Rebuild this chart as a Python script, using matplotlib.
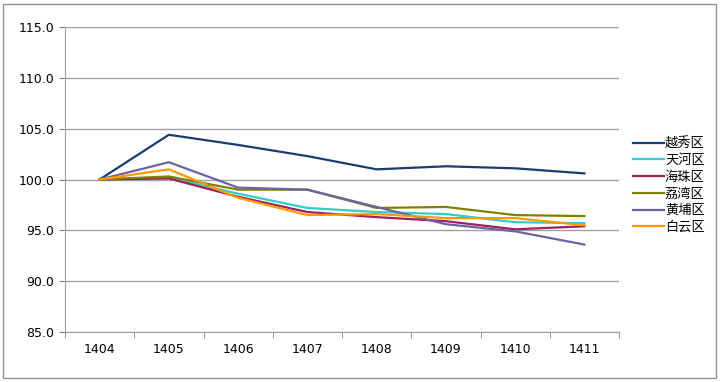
import matplotlib
matplotlib.use('Agg')
import matplotlib.pyplot as plt
from matplotlib.patches import Rectangle

plt.rcParams['font.family'] = ['Noto Sans CJK SC', 'DejaVu Sans']

months = ['1404', '1405', '1406', '1407', '1408', '1409', '1410', '1411']
yuexiu = [100.0, 104.4, 103.4, 102.3, 101.0, 101.3, 101.1, 100.6]
tianhe = [100.0, 100.2, 98.6, 97.2, 96.8, 96.6, 95.8, 95.7]
haizhu = [100.0, 100.1, 98.3, 96.8, 96.3, 95.9, 95.1, 95.4]
liwan = [100.0, 100.3, 99.0, 99.0, 97.2, 97.3, 96.5, 96.4]
huangpu = [100.0, 101.7, 99.2, 99.0, 97.3, 95.6, 94.9, 93.6]
baiyun = [100.0, 101.0, 98.2, 96.5, 96.6, 96.2, 96.2, 95.5]

names = ['越秀区', '天河区', '海珠区', '荔湾区', '黄埔区', '白云区']
series = [yuexiu, tianhe, haizhu, liwan, huangpu, baiyun]
colors = ['#1A3C70', '#33CCCC', '#A0205A', '#808000', '#6E62A6', '#FF9900']

fig = plt.figure(figsize=(7.2, 3.82), dpi=100)
ax = fig.add_axes([65/720, 50/382, 554/720, 305/382])

x = list(range(len(months)))
for s, n, c in zip(series, names, colors):
    ax.plot(x, s, color=c, lw=1.6, label=n)

ax.set_xlim(-0.5, len(months) - 0.5)
ax.set_ylim(85, 115)
ax.set_yticks([85, 90, 95, 100, 105, 110, 115])
ax.set_yticklabels(['%.1f' % v for v in [85, 90, 95, 100, 105, 110, 115]], fontsize=9, family='DejaVu Sans')
ax.set_xticks(x)
ax.set_xticklabels(months, fontsize=9, family='DejaVu Sans')
ax.set_xticks([i - 0.5 for i in range(len(months) + 1)], minor=True)
ax.tick_params(axis='x', which='major', length=0, pad=8)
ax.tick_params(axis='x', which='minor', length=4, color='#808080')
ax.tick_params(axis='y', length=4, color='#808080')
ax.grid(axis='y', color='#A0A0A0', lw=1)
ax.set_axisbelow(True)
for sp in ['top', 'right']:
    ax.spines[sp].set_visible(False)
for sp in ['left', 'bottom']:
    ax.spines[sp].set_color('#A0A0A0')

leg = fig.legend(loc='upper left', bbox_to_anchor=(628/720, 1 - 132/382), frameon=False,
                 fontsize=9.5, handlelength=2.3, handletextpad=0.1, labelspacing=0.28,
                 borderaxespad=0)

fig.patches.append(Rectangle((3/720, 4/382), 713/720, 374/382, transform=fig.transFigure,
                             fill=False, edgecolor='#909090', lw=1))

fig.savefig('out.png', dpi=100)
